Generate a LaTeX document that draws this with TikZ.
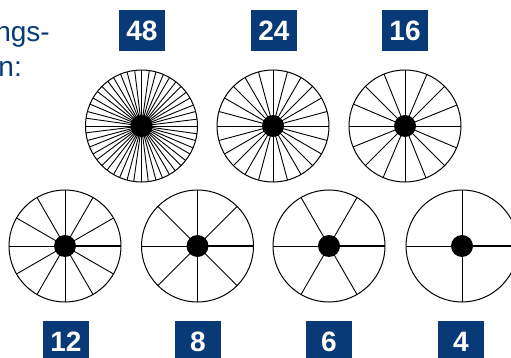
\documentclass[tikz,border=0pt]{standalone}
\usepackage{fontspec}
\setmainfont{Liberation Sans}
\definecolor{navy}{RGB}{8,58,120}
\begin{document}
\begin{tikzpicture}[x=1pt,y=-1pt,
  wheel/.style={circle,draw,line width=1pt,minimum size=112pt,inner sep=0pt,outer sep=0pt},
  hub/.style={circle,fill=black,minimum size=22pt,inner sep=0pt},
  spoke/.style={line width=0.9pt},
  mainspoke/.style={line width=1.6pt},
  numbox/.style={fill=navy,text=white,font=\bfseries\fontsize{28}{28}\selectfont,minimum width=46pt,minimum height=41pt,inner sep=0pt},
  txt/.style={text=navy,font=\fontsize{28}{35}\selectfont,inner sep=0pt}]
\useasboundingbox (0,0) rectangle (511,358);
\clip (0,0) rectangle (511,358);
\node[txt,anchor=base east] (t1) at (50,42) {ngs-};
\node[txt,anchor=base east] (t2) at (22,77) {n:};
\foreach \n/\x/\y/\bx/\by/\r in {48/141.5/126/142/30.5/0, 24/273/126/274/30.5/0, 16/405/126/405/30.5/0, 12/65/246/66/341.5/1, 8/197.5/246/198/341.5/1, 6/329/246/329/341.5/1, 4/462/246/461/341.5/1}{
  \node[wheel] (w\n) at (\x,\y) {};
  \foreach \i [evaluate=\i as \a using 360/\n*\i] in {1,...,\n}{
    \draw[spoke] (w\n.center) -- (w\n.\a);
  }
  \ifnum\r=1
    \draw[mainspoke] (w\n.center) -- (w\n.east);
  \fi
  \node[hub] (h\n) at (w\n.center) {};
  \node[numbox] (b\n) at (\bx,\by) {\n};
}
\end{tikzpicture}
\end{document}
